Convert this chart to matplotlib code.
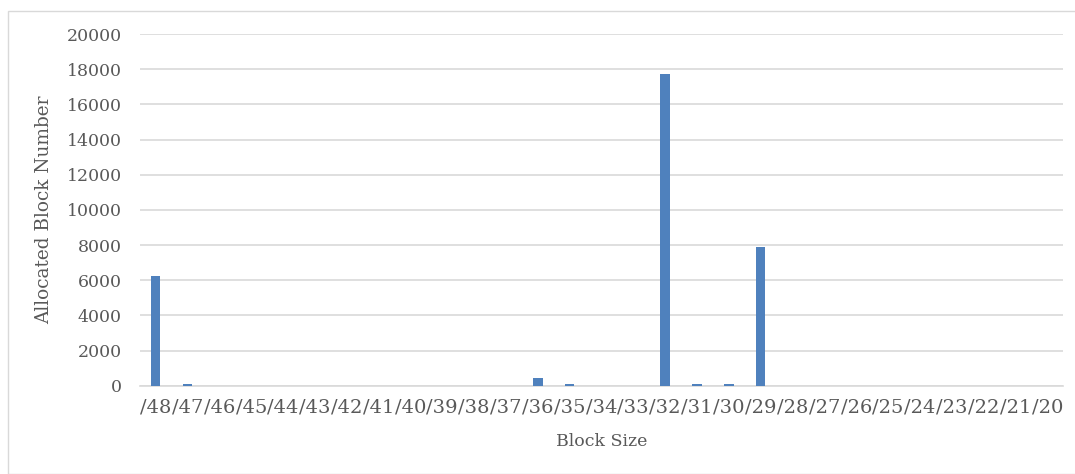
import matplotlib.pyplot as plt
from matplotlib.patches import Rectangle

# Block sizes (prefix lengths) and allocated counts
block_sizes = ['/%d' % n for n in range(48, 19, -1)]
allocated = [6240, 110, 0, 0, 0, 0, 0, 0, 0, 0, 0, 0, 440, 110, 0, 0,
             17740, 110, 110, 7910, 0, 0, 0, 0, 0, 0, 0, 0, 0]
y_ticks = [0, 2000, 4000, 6000, 8000, 10000, 12000, 14000, 16000, 18000, 20000]

plt.rcParams['font.family'] = ['DejaVu Serif']
text_col = '#595959'

fig = plt.figure(figsize=(10.75, 4.74), dpi=100)
ax = fig.add_axes([0.130, 0.186, 0.859, 0.742])

x = range(len(block_sizes))
ax.bar(x, allocated, width=0.3, color='#4f81bd', zorder=3)

ax.set_xlim(-0.5, len(block_sizes) - 0.5)
ax.set_ylim(0, 20000)
ax.set_yticks(y_ticks)
ax.set_xticks(list(x))
ax.set_xticklabels(block_sizes)
ax.yaxis.grid(True, color='#d9d9d9', linewidth=1.2, zorder=0)
for s in ['top', 'right', 'left']:
    ax.spines[s].set_visible(False)
ax.spines['bottom'].set_color('#d9d9d9')
ax.spines['bottom'].set_linewidth(1.2)
ax.tick_params(axis='both', length=0, colors=text_col)
ax.tick_params(axis='y', labelsize=12.5, pad=13)
ax.tick_params(axis='x', labelsize=14, pad=9)

ax.set_xlabel('Block Size', fontsize=12.5, color=text_col, labelpad=12)
ax.set_ylabel('Allocated Block Number', fontsize=13.3, color=text_col, labelpad=10)

# light frame around the chart area
fig.patches.append(Rectangle((8 / 1075, 0.0), 1.1, (474 - 11) / 474,
                             transform=fig.transFigure, fill=False,
                             edgecolor='#d9d9d9', linewidth=1))

fig.savefig('out.png', dpi=100)
